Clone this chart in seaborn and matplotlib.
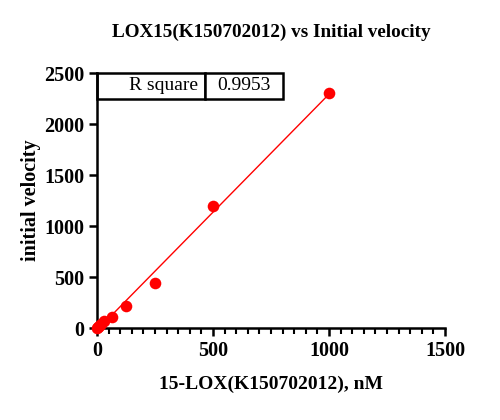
import numpy as np
import pandas as pd
import matplotlib
matplotlib.use("Agg")
import matplotlib.pyplot as plt
import seaborn as sns
from matplotlib.ticker import MultipleLocator

conc = [0, 3.9, 7.8, 15.6, 31.25, 62.5, 125, 250, 500, 1000]
velocity = [0, 10, 22, 42, 70, 112, 218, 441, 1192, 2300]
r_square = "0.9953"

df = pd.DataFrame({"conc": conc, "velocity": velocity})

sns.set_style("ticks")
plt.rcParams["font.family"] = ["Liberation Serif", "DejaVu Serif"]
plt.rcParams["text.color"] = "black"
plt.rcParams["axes.labelcolor"] = "black"
plt.rcParams["xtick.color"] = "black"
plt.rcParams["ytick.color"] = "black"

fig = plt.figure(figsize=(5, 4.2), dpi=100)
ax = fig.add_axes([0.194, 0.219, 0.696, 0.607])

sns.regplot(
    data=df, x="conc", y="velocity", ci=None, ax=ax,
    scatter_kws={"s": 70, "color": "#ff0000", "alpha": 1, "zorder": 3,
                 "clip_on": False, "linewidths": 0},
    line_kws={"color": "#ff0000", "linewidth": 1},
    truncate=True,
)

ax.set_xlim(0, 1500)
ax.set_ylim(0, 2500)
ax.xaxis.set_major_locator(MultipleLocator(500))
ax.xaxis.set_minor_locator(MultipleLocator(50))
ax.yaxis.set_major_locator(MultipleLocator(500))
for s in ["top", "right"]:
    ax.spines[s].set_visible(False)
for s in ["left", "bottom"]:
    ax.spines[s].set_linewidth(1.8)
    ax.spines[s].set_color("black")
ax.tick_params(which="major", length=6, width=1.8, colors="black", labelsize=14.5, pad=3)
ax.tick_params(which="minor", length=4, width=1.5, colors="black")
for lab in ax.get_xticklabels() + ax.get_yticklabels():
    lab.set_fontweight("bold")

ax.set_xlabel("15-LOX(K150702012), nM", fontsize=14, fontweight="bold", labelpad=11, color="black")
ax.set_ylabel("initial velocity", fontsize=14.5, fontweight="bold", labelpad=2, color="black")
ax.set_title("LOX15(K150702012) vs Initial velocity", fontsize=13.8, fontweight="bold", pad=26, color="black")

tbl = ax.table(cellText=[["R square", r_square]], colWidths=[0.31, 0.224],
               bbox=[0, 0.9, 0.534, 0.1], cellLoc="center")
tbl.auto_set_font_size(False)
tbl.set_fontsize(14)
for (r, c), cell in tbl.get_celld().items():
    cell.set_linewidth(1.8)
    cell.set_edgecolor("black")
    cell.get_text().set_color("black")
    if c == 0:
        cell._loc = "right"
        cell.PAD = 0.06
        cell.get_text().set_horizontalalignment("right")

fig.savefig("out.png", dpi=100)
